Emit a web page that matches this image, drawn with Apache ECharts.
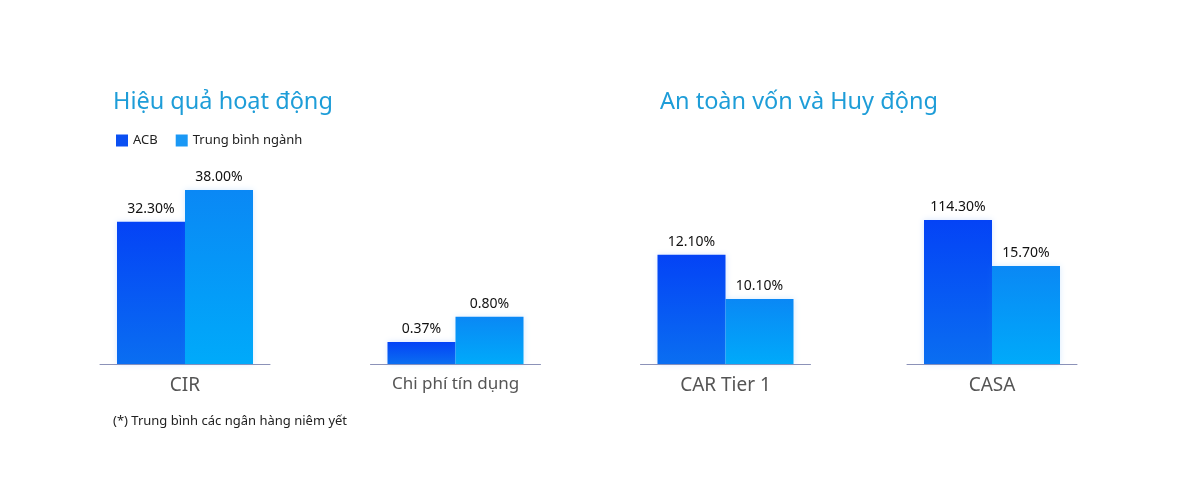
<!DOCTYPE html>
<html>
<head>
<meta charset="utf-8">
<script src="https://cdn.jsdelivr.net/npm/echarts@6/dist/echarts.min.js"></script>
<style>
  html, body { margin: 0; padding: 0; background: #fff; }
  #chart { width: 1200px; height: 478px; }
</style>
</head>
<body>
<div id="chart"></div>
<script>
// chỉ tiêu (mỗi nhóm cột một chỉ tiêu)
var categories = ['CIR', 'Chi phí tín dụng', 'CAR Tier 1', 'CASA'];

// giá trị ACB (%)
var acbValues = [32.3, 0.37, 12.1, 114.3];

// trung bình ngành (%)
var industryValues = [38.0, 0.8, 10.1, 15.7];

var seriesNames = ['ACB', 'Trung bình ngành'];

// vị trí tâm từng nhóm và thang trục y riêng của mỗi nhóm (hình gốc không vẽ theo cùng tỉ lệ)
var groupCenters = [185, 455.5, 725.5, 992];
var axisMin = [6.7, 0, 7.17, -194.4];
var axisMax = [42.67, 3.38, 16.19, 234.3];
var labelSizes = [19, 17, 19, 19];

function grad(top, bottom) {
    return new echarts.graphic.LinearGradient(0, 0, 0, 1, [
        { offset: 0, color: top },
        { offset: 1, color: bottom }
    ]);
}

var fontFamily = '"Noto Sans", "Open Sans", sans-serif';

var grids = [], xAxes = [], yAxes = [], series = [];

function valueLabel() {
    return {
        show: true, position: 'top', distance: 6, fontSize: 14, color: '#111', fontFamily: fontFamily,
        formatter: function (p) { return p.value.toFixed(2) + '%'; }
    };
}

categories.forEach(function (cat, i) {
    grids.push({ left: groupCenters[i] - 85, width: 170, top: 164, height: 200 });
    xAxes.push({
        type: 'category',
        gridIndex: i,
        data: [cat],
        axisTick: { show: false },
        axisLine: { onZero: false, lineStyle: { color: '#8c92b8', width: 1 } },
        axisLabel: { margin: 12, fontSize: labelSizes[i], color: '#555', fontFamily: fontFamily }
    });
    yAxes.push({
        type: 'value',
        gridIndex: i,
        min: axisMin[i],
        max: axisMax[i],
        startValue: axisMin[i],
        show: false,
        splitLine: { show: false }
    });
    series.push({
        name: seriesNames[0],
        type: 'bar',
        xAxisIndex: i,
        yAxisIndex: i,
        barWidth: 68,
        barGap: '0%',
        data: [acbValues[i]],
        itemStyle: { color: grad('#0443f6', '#0a6ef1'), shadowBlur: 6, shadowColor: 'rgba(30,110,255,0.18)' },
        label: valueLabel()
    });
    series.push({
        name: seriesNames[1],
        type: 'bar',
        xAxisIndex: i,
        yAxisIndex: i,
        barWidth: 68,
        barGap: '0%',
        data: [industryValues[i]],
        itemStyle: { color: grad('#0a88f5', '#00aafa'), shadowBlur: 6, shadowColor: 'rgba(30,140,255,0.18)' },
        label: valueLabel()
    });
});

var myChart = echarts.init(document.getElementById('chart'));

var option = {
    animation: false,
    backgroundColor: '#fff',
    title: [
        { text: 'Hiệu quả hoạt động', left: 108, top: 85, textStyle: { color: '#1e9dd8', fontSize: 23.5, fontWeight: 'normal', fontFamily: fontFamily } },
        { text: 'An toàn vốn và Huy động', left: 655, top: 85, textStyle: { color: '#1e9dd8', fontSize: 23.5, fontWeight: 'normal', fontFamily: fontFamily } },
        { text: '(*) Trung bình các ngân hàng niêm yết', left: 108, top: 410, textStyle: { color: '#222', fontSize: 13, fontWeight: 'normal', fontFamily: fontFamily } }
    ],
    legend: {
        left: 111,
        top: 129,
        icon: 'rect',
        itemWidth: 12,
        itemHeight: 12,
        itemGap: 18,
        textStyle: { fontSize: 13, color: '#222', fontFamily: fontFamily },
        data: [
            { name: seriesNames[0], itemStyle: { color: '#0a4ff2' } },
            { name: seriesNames[1], itemStyle: { color: '#1a98f5' } }
        ]
    },
    grid: grids,
    xAxis: xAxes,
    yAxis: yAxes,
    series: series
};

myChart.setOption(option);
</script>
</body>
</html>
